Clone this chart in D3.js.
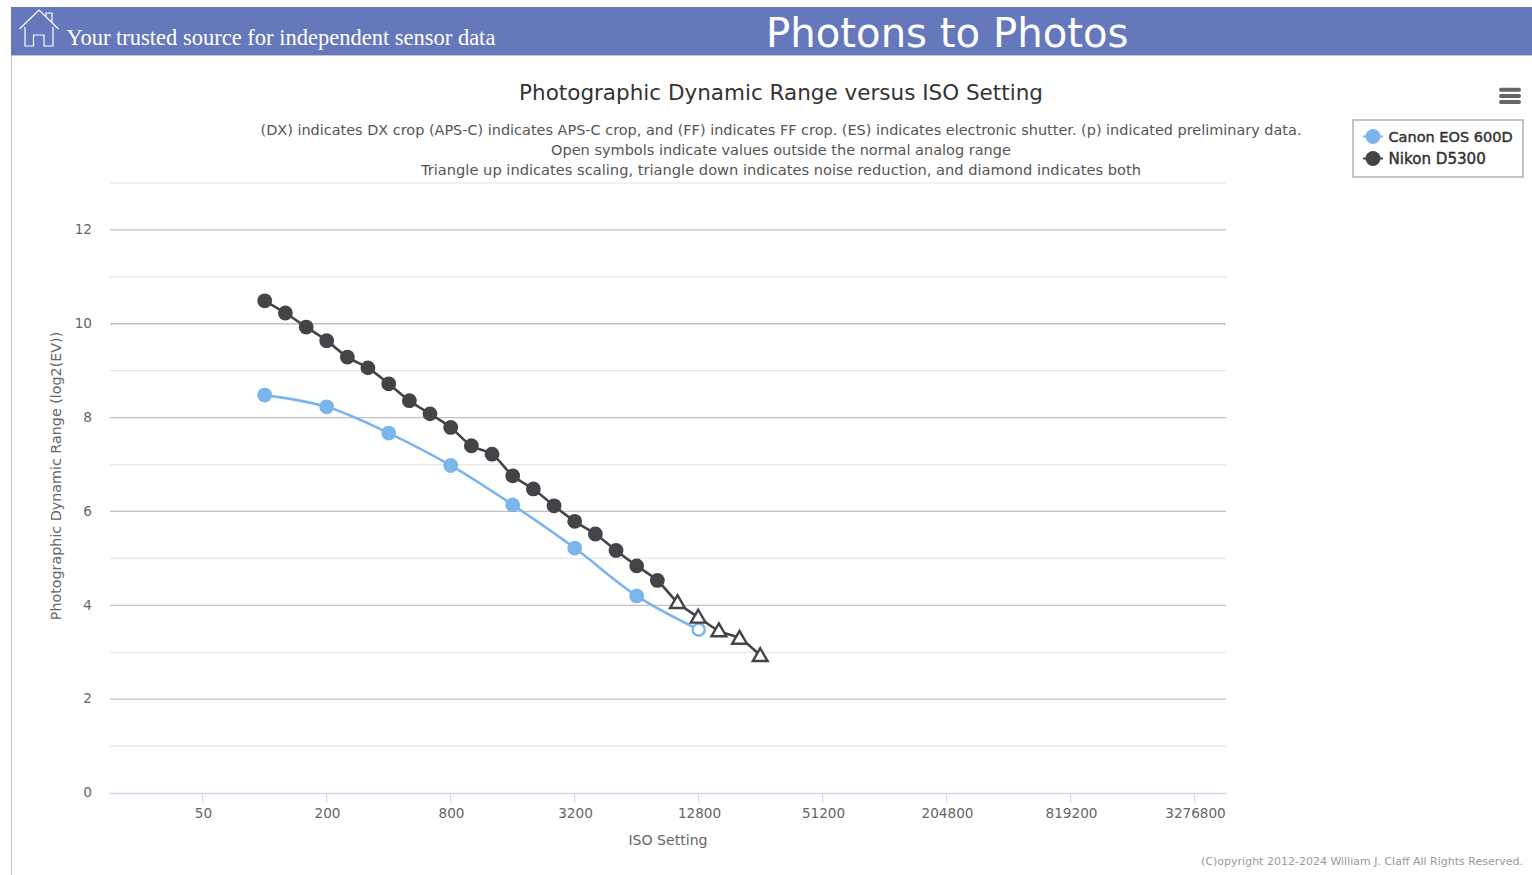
<!DOCTYPE html>
<html><head><meta charset="utf-8">
<script src="https://cdnjs.cloudflare.com/ajax/libs/d3/7.8.5/d3.min.js"></script>
<style>html,body{margin:0;padding:0;background:#fff;overflow:hidden}svg{display:block}text{font-family:"DejaVu Sans",sans-serif}</style>
</head><body><svg id="c" width="1532" height="875"></svg>
<script>
const canonIso=[100,200,400,800,1600,3200,6400,12800];
const canonDR=[8.48,8.23,7.67,6.98,6.14,5.22,4.20,3.48];
const canonOpen=[false,false,false,false,false,false,false,true];
const nikonIso=[100,126,159,200,252,317,400,504,635,800,1008,1270,1600,2016,2540,3200,4032,5080,6400,8063,10159,12800,16127,20319,25600];
const nikonDR=[10.49,10.23,9.93,9.64,9.29,9.06,8.72,8.36,8.08,7.79,7.40,7.22,6.76,6.48,6.12,5.79,5.52,5.17,4.84,4.53,4.05,3.74,3.45,3.29,2.92];
const nikonScaled=nikonIso.map(d=>d>8063);
const xTicks=[50,200,800,3200,12800,51200,204800,819200,3276800];
const yMajor=[0,2,4,6,8,10,12];
const yMinor=[1,3,5,7,9,11,13];
const subtitleLines=["(DX) indicates DX crop (APS-C) indicates APS-C crop, and (FF) indicates FF crop. (ES) indicates electronic shutter. (p) indicated preliminary data.","Open symbols indicate values outside the normal analog range","Triangle up indicates scaling, triangle down indicates noise reduction, and diamond indicates both"];
const subtitleSizes=[14.45,14.5,14.65];
const blue="#7cb5ec",dark="#434348";
const svg=d3.select("#c");
const x=d3.scaleLog().base(2).domain([50*Math.pow(2,-92.7/62),50*Math.pow(2,1023.3/62)]).range([110,1226]);
const y=d3.scaleLinear().domain([0,13]).range([793,183]);

// header
svg.append("rect").attr("x",11).attr("y",7).attr("width",1521).attr("height",48).attr("fill","#6678bc");
svg.append("rect").attr("x",11).attr("y",55).attr("width",1521).attr("height",1).attr("fill","#c4c4c4");
svg.append("rect").attr("x",11).attr("y",55).attr("width",1).attr("height",820).attr("fill","#c4c4c4");
svg.append("path").attr("d","M19.5 29 L39 10 L58.5 29 M25 27 V46 H33.5 V35 H44 V46 H53 V27 M46 16 V13 H52 V22").attr("fill","none").attr("stroke","#fff").attr("stroke-width",1.2);
svg.append("text").attr("x",66.5).attr("y",45).attr("fill","#fff").style("font-family","'Liberation Serif',serif").style("font-size","22.5px").text("Your trusted source for independent sensor data");
svg.append("text").attr("x",766).attr("y",47).attr("fill","#fff").style("font-size","40.2px").text("Photons to Photos");

// titles
svg.append("text").attr("x",781).attr("y",100).attr("text-anchor","middle").attr("fill","#333").style("font-size","21.5px").text("Photographic Dynamic Range versus ISO Setting");
svg.selectAll(".sub").data(subtitleLines).enter().append("text").attr("class","sub").attr("x",781).attr("y",(d,i)=>135+i*20).attr("text-anchor","middle").attr("fill","#555").style("font-size",(d,i)=>subtitleSizes[i]+"px").text(d=>d);

// grid
svg.selectAll(".gmin").data(yMinor).enter().append("line").attr("x1",110).attr("x2",1226).attr("y1",d=>y(d)).attr("y2",d=>y(d)).attr("stroke","#e6e6e6").attr("stroke-width",1.2);
svg.selectAll(".gmaj").data(yMajor.filter(d=>d>0)).enter().append("line").attr("x1",110).attr("x2",1226).attr("y1",d=>y(d)).attr("y2",d=>y(d)).attr("stroke","#c0c0c0").attr("stroke-width",1.3);

// axes
const xa=d3.axisBottom(x).tickValues(xTicks).tickFormat(d3.format("d")).tickSizeInner(10).tickSizeOuter(0).tickPadding(5);
const gx=svg.append("g").attr("transform","translate(-0.5,793)").call(xa);
gx.select(".domain").attr("stroke","#ccd6eb").attr("stroke-width",1.3);
gx.selectAll(".tick line").attr("stroke","#ccd6eb");
gx.selectAll("text").attr("fill","#666").attr("dx",0.8).style("font-size","13.6px");
const ya=d3.axisLeft(y).tickValues(yMajor).tickFormat(d3.format("d")).tickSize(0).tickPadding(19);
const gy=svg.append("g").attr("transform","translate(111,0)").call(ya);
gy.select(".domain").remove();
gy.selectAll("text").attr("fill","#666").attr("dy","0.28em").style("font-size","13.6px");
svg.append("text").attr("x",668).attr("y",845).attr("text-anchor","middle").attr("fill","#666").style("font-size","14.1px").text("ISO Setting");
svg.append("text").attr("transform","translate(61,476) rotate(-90)").attr("text-anchor","middle").attr("fill","#666").style("font-size","14.3px").text("Photographic Dynamic Range (log2(EV))");

// series
const line=d3.line().x(d=>x(d[0])).y(d=>y(d[1])).curve(d3.curveCatmullRom.alpha(0.5));
const canon=canonIso.map((d,i)=>[d,canonDR[i],canonOpen[i]]);
const nikon=nikonIso.map((d,i)=>[d,nikonDR[i],nikonScaled[i]]);
svg.append("path").attr("d",line(canon)).attr("fill","none").attr("stroke",blue).attr("stroke-width",2.6);
svg.append("path").attr("d",line(nikon)).attr("fill","none").attr("stroke",dark).attr("stroke-width",2.6);
svg.selectAll(".cp").data(canon).enter().append("circle").attr("cx",d=>x(d[0])).attr("cy",d=>y(d[1])).attr("r",d=>d[2]?6:7.4).attr("fill",d=>d[2]?"#fff":blue).attr("stroke",d=>d[2]?blue:"none").attr("stroke-width",2.4);
svg.selectAll(".np").data(nikon.filter(d=>!d[2])).enter().append("circle").attr("cx",d=>x(d[0])).attr("cy",d=>y(d[1])).attr("r",7.4).attr("fill",dark);
const tri=d3.symbol().type(d3.symbolTriangle).size(95);
svg.selectAll(".nt").data(nikon.filter(d=>d[2])).enter().append("path").attr("d",tri()).attr("transform",d=>`translate(${x(d[0])-0.5},${y(d[1])+0.8})`).attr("fill","#fff").attr("stroke",dark).attr("stroke-width",2.4);

// menu icon
svg.selectAll(".m").data([89.7,96,102]).enter().append("line").attr("x1",1501).attr("x2",1519).attr("y1",d=>d).attr("y2",d=>d).attr("stroke","#666").attr("stroke-width",4).attr("stroke-linecap","round");

// legend
svg.append("rect").attr("x",1353).attr("y",120).attr("width",170).attr("height",57).attr("fill","#fff").attr("stroke","#b5b5b5").attr("stroke-width",1.6);
const names=["Canon EOS 600D","Nikon D5300"],cols=[blue,dark],legendSizes=[14.5,15.1];
names.forEach((n,i)=>{const yy=136.5+i*22;
 svg.append("line").attr("x1",1363).attr("x2",1383).attr("y1",yy).attr("y2",yy).attr("stroke",cols[i]).attr("stroke-width",2);
 svg.append("circle").attr("cx",1373).attr("cy",yy).attr("r",7.5).attr("fill",cols[i]);
 svg.append("text").attr("x",1388.5).attr("y",yy+5.5).attr("fill","#333").attr("stroke","#333").attr("stroke-width",0.45).style("font-size",legendSizes[i]+"px").text(n);
});
svg.append("text").attr("x",1523).attr("y",865).attr("text-anchor","end").attr("fill","#999").style("font-size","11px").text("(C)opyright 2012-2024 William J. Claff All Rights Reserved.");
</script></body></html>
